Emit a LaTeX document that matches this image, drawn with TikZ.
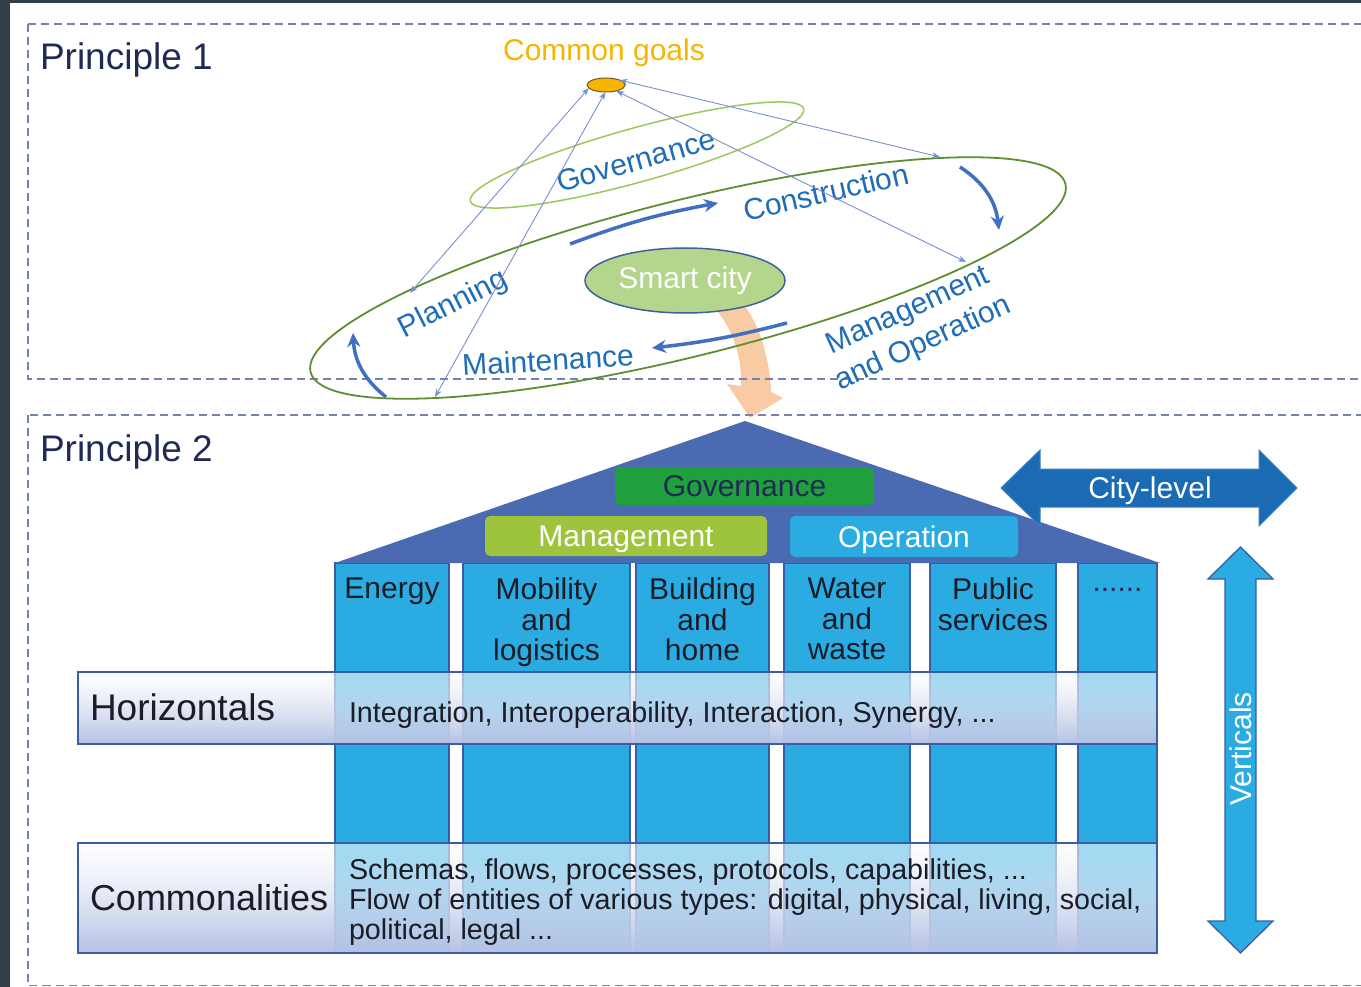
\documentclass[tikz,border=0pt]{standalone}
\usepackage{fontspec}
\setmainfont{Liberation Sans}
\usetikzlibrary{shapes.geometric,arrows.meta,fadings}

\definecolor{framec}{HTML}{323E48}
\definecolor{dashc}{HTML}{7482B2}
\definecolor{navy}{HTML}{1F2A55}
\definecolor{lblue}{HTML}{1F6DB8}
\definecolor{goalc}{HTML}{F7B500}
\definecolor{goaledge}{HTML}{6B5A2A}
\definecolor{thinc}{HTML}{7890D2}
\definecolor{cyclec}{HTML}{4170C2}
\definecolor{ringc}{HTML}{5F8E32}
\definecolor{govringc}{HTML}{9CC75A}
\definecolor{cityfill}{HTML}{B4D58C}
\definecolor{cityedge}{HTML}{40609C}
\definecolor{peach}{HTML}{F9CBA4}
\definecolor{roofc}{HTML}{4A6AB2}
\definecolor{colfill}{HTML}{2AACE2}
\definecolor{coledge}{HTML}{3C5CA8}
\definecolor{govfill}{HTML}{20A03C}
\definecolor{mgmtfill}{HTML}{9DC43C}
\definecolor{cityarrow}{HTML}{1A6AB4}
\definecolor{lavender}{HTML}{B4C1E4}
\definecolor{ink}{HTML}{1C1C26}

\tikzfading[name=glass, top color=transparent!45, bottom color=transparent!0]

\newcommand\setfs[2]{\fontsize{#1}{#2}\selectfont}

\begin{document}
\begin{tikzpicture}[x=1pt,y=-1pt,
  every node/.style={inner sep=0pt, outer sep=0pt},
  dashbox/.style={draw=dashc, line width=1.8pt, dash pattern=on 8pt off 5pt},
  title/.style={text=navy, font=\setfs{37}{37}, anchor=base west},
  p1lbl/.style={text=lblue, font=\setfs{30}{30}, text height=21.5pt, text depth=0pt},
  goalarrow/.style={draw=thinc, line width=0.9pt,
    {Stealth[length=8pt,width=6pt]}-{Stealth[length=8pt,width=6pt]}},
  cycarrow/.style={draw=cyclec, line width=3.5pt, -{Stealth[length=14pt,width=13pt]}},
  col/.style={anchor=north west, minimum height=390pt, fill=colfill, draw=coledge, line width=1.2pt},
  coltext/.style={anchor=north, align=center, font=\setfs{30}{30.5}, text=ink},
  rbox/.style={rounded corners=5pt, font=\setfs{30}{30}, text height=21.5pt, text depth=0pt},
  bar/.style={anchor=north west, draw=coledge, line width=1.5pt, minimum width=1079pt},
  bigarrow/.style={line width=1pt, line join=miter}
]
\useasboundingbox (0,0) rectangle (1361,987);
\clip (0,0) rectangle (1361,987);

% page ground
\fill[framec] (0,0) rectangle (1361,987);
\fill[white] (10,3) rectangle (1361,987);

% flow from the smart city down into the house
\fill[peach] (712,305) .. controls (735,330) and (742,360) .. (741,386)
  -- (727,384) -- (750,418) -- (783,398) -- (771,392)
  .. controls (770,360) and (760,325) .. (742,302) -- cycle;

% the two principle frames
\draw[dashbox] (28,24) rectangle (1380,379);
\draw[dashbox] (28,415) rectangle (1380,985.5);
\node[title] (p1) at (40,70) {Principle 1};
\node[title] (p2) at (40,461) {Principle 2};

% ---------------- Principle 1: life cycle ----------------
\node[ellipse, draw=ringc, line width=1.8pt, minimum width=778pt, minimum height=156pt, rotate=14] (ring) at (688,278) {};
\node[ellipse, draw=govringc, line width=1.5pt, minimum width=346pt, minimum height=54pt, rotate=15.5] (govring) at (637,155) {};
\node[ellipse, fill=cityfill, draw=cityedge, line width=1.5pt, minimum width=200pt, minimum height=65pt,
      text=white, font=\setfs{30}{30}] (city) at (685,280.5) {Smart city};

\node[ellipse, fill=goalc, draw=goaledge, line width=1pt, minimum width=38pt, minimum height=14pt] (goal) at (606,85) {};
\node[anchor=base, text=goalc, font=\setfs{30}{30}] (goaltxt) at (604,61) {Common goals};

\node[p1lbl, rotate=16] (lgov) at (636,160) {Governance};
\node[p1lbl, rotate=13] (lcon) at (826,192) {Construction};
\node[p1lbl, rotate=27] (lplan) at (452,302) {Planning};
\node[p1lbl, rotate=3.5] (lmaint) at (548,360) {Maintenance};
\node[text=lblue, font=\setfs{30}{36.5}, align=center, rotate=24.5] (lmo) at (916,328) {Management\\and Operation};

% links between the common goals and the phases
\coordinate (gPlan) at (410,293);
\coordinate (gMaint) at (435,397);
\coordinate (gCon) at (940,157);
\coordinate (gMO) at (966,262);
\draw[goalarrow] (goal.190) -- (gPlan);
\draw[goalarrow] (goal.265) -- (gMaint);
\draw[goalarrow] (goal.20) -- (gCon);
\draw[goalarrow] (goal.330) -- (gMO);

% cycle direction
\coordinate (a1s) at (570,244);  \coordinate (a1e) at (718,203);
\coordinate (a2s) at (960,167);  \coordinate (a2e) at (999,230);
\coordinate (a3s) at (787,323);  \coordinate (a3e) at (652,348);
\coordinate (a4s) at (386,397);  \coordinate (a4e) at (353,333);
\draw[cycarrow] (a1s) to[bend left=5] (a1e);
\draw[cycarrow] (a2s) to[bend left=25] (a2e);
\draw[cycarrow] (a3s) to[bend left=4] (a3e);
\draw[cycarrow] (a4s) to[bend left=24] (a4e);

% ---------------- Principle 2: the house ----------------
\node[col, minimum width=114pt] (cEnergy) at (335,563) {};
\node[col, minimum width=167pt] (cMob) at (463,563) {};
\node[col, minimum width=133pt] (cBuild) at (636,563) {};
\node[col, minimum width=126pt] (cWater) at (784,563) {};
\node[col, minimum width=126pt] (cPublic) at (930,563) {};
\node[col, minimum width=79pt] (cMore) at (1078,563) {};

\coordinate (apex) at (745,421);
\coordinate (eaveL) at (335,563);
\coordinate (eaveR) at (1160,563);
\fill[roofc] (eaveL) -- (apex) -- (eaveR) -- cycle;

\node[rbox, fill=govfill, text=navy, minimum width=259pt, minimum height=38pt] (hgov) at (744.5,486) {Governance};
\node[rbox, fill=mgmtfill, text=white, minimum width=282pt, minimum height=40pt] (hmgmt) at (626,536) {Management};
\node[rbox, fill=colfill, text=white, minimum width=228pt, minimum height=41pt] (hop) at (904,536.5) {Operation};

\node[coltext] (tEnergy) at ([yshift=-15pt]cEnergy.north) {Energy};
\node[coltext] (tMob) at ([yshift=-15pt]cMob.north) {Mobility\\and\\logistics};
\node[coltext] (tBuild) at ([yshift=-15pt]cBuild.north) {Building\\and\\home};
\node[coltext] (tWater) at ([yshift=-15pt]cWater.north) {Water\\and\\waste};
\node[coltext] (tPublic) at ([yshift=-15pt]cPublic.north) {Public\\services};
\node[anchor=base, font=\setfs{30}{30}, text=navy] (tMore) at (1117.5,591) {......};

% glassy cross bars
\path[top color=white, bottom color=lavender, path fading=glass] (78,672) rectangle (1157,744);
\node[bar, minimum height=72pt] (horiz) at (78,672) {};
\path[top color=white, bottom color=lavender, path fading=glass] (78,843) rectangle (1157,953);
\node[bar, minimum height=110pt] (common) at (78,843) {};

\node[anchor=base west, font=\setfs{37}{37}, text=ink] (hTitle) at (90,720) {Horizontals};
\node[anchor=base west, font=\setfs{28.7}{30}, text=ink] (hText) at (349,722)
  {Integration, Interoperability, Interaction, Synergy, ...};
\node[anchor=base west, font=\setfs{36}{36}, text=ink] (cTitle) at (90,910) {Commonalities};
\node[anchor=north west, align=left, font=\setfs{28.7}{30}, text=ink] (cText) at (349,858.5)
  {Schemas, flows, processes, protocols, capabilities, ...\\
   Flow of entities of various types: digital, physical, living, social,\\
   political, legal ...};

% scope arrows
\fill[cityarrow, draw=cityarrow!85!white, bigarrow]
  (1001,488) -- (1040,450) -- (1040,469) -- (1259,469) -- (1259,450) -- (1297,488)
  -- (1259,526) -- (1259,507) -- (1040,507) -- (1040,526) -- cycle;
\node[text=white, font=\setfs{30}{30}, text height=21.5pt, text depth=0pt] (cityLevel) at (1150,488) {City-level};

\filldraw[fill=colfill, draw=coledge, bigarrow, line width=1.3pt]
  (1240.5,547) -- (1273,579) -- (1256,579) -- (1256,921) -- (1273,921) -- (1240.5,953)
  -- (1208,921) -- (1225,921) -- (1225,579) -- (1208,579) -- cycle;
\node[text=white, font=\setfs{30}{30}, text height=21.5pt, text depth=0pt, rotate=90] (verticals) at (1240.5,749) {Verticals};

\end{tikzpicture}
\end{document}
